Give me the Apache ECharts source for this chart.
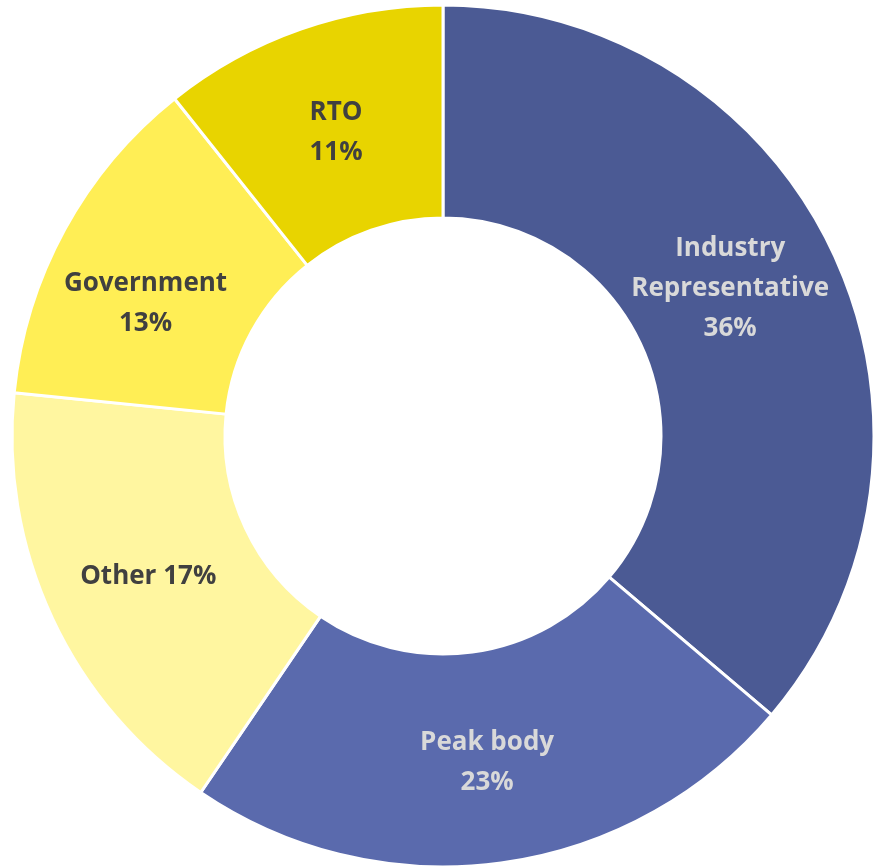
<!DOCTYPE html>
<html>
<head>
<meta charset="utf-8">
<script src="https://cdn.jsdelivr.net/npm/echarts@6/dist/echarts.min.js"></script>
<style>html,body{margin:0;padding:0;background:#fff;}#c{width:873px;height:868px;}</style>
</head>
<body>
<div id="c"></div>
<script>
const categories = ['Industry\nRepresentative', 'Peak body', 'Other', 'Government', 'RTO'];
const values = [36.2, 23.3, 17.1, 12.7, 10.7];
const colors = ['#4B5A94', '#5A6AAD', '#FFF6A0', '#FFEE55', '#E8D400'];
const labelColors = ['#D9D9D9', '#D9D9D9', '#404040', '#404040', '#404040'];
const labelShift = [[-10, -10], [0, 2], [2, 2], [-10, 24], [1, 6]];

const chart = echarts.init(document.getElementById('c'));
chart.setOption({
  animation: false,
  series: [{
    type: 'pie',
    center: [443, 436],
    radius: [218, 431],
    startAngle: 90,
    clockwise: true,
    itemStyle: { borderColor: '#fff', borderWidth: 3 },
    label: {
      position: 'inside',
      fontFamily: 'Open Sans',
      fontWeight: 'bold',
      fontSize: 26,
      lineHeight: 40
    },
    labelLine: { show: false },
    labelLayout: p => ({ dx: labelShift[p.dataIndex][0], dy: labelShift[p.dataIndex][1] }),
    emphasis: { disabled: true },
    data: categories.map((name, i) => ({
      name: name,
      value: values[i],
      itemStyle: { color: colors[i] },
      label: {
        color: labelColors[i],
        formatter: p => p.name + (p.name === 'Other' ? ' ' : '\n') + Math.round(p.value) + '%'
      }
    }))
  }]
});
</script>
</body>
</html>
